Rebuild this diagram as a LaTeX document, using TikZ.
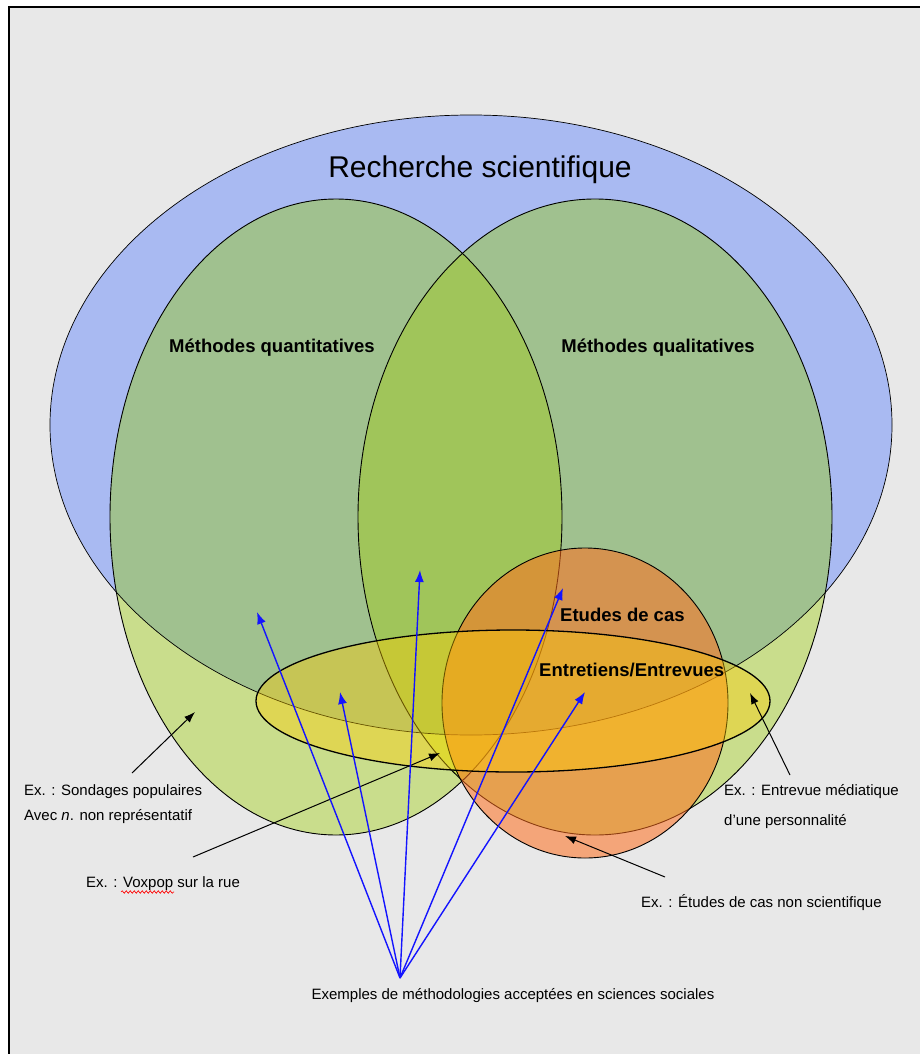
\documentclass[tikz,border=0pt]{standalone}
\usepackage{fontspec}
\setmainfont{Liberation Sans}
\usetikzlibrary{arrows.meta,decorations.pathmorphing}
\definecolor{pagebg}{HTML}{E8E8E8}
\definecolor{bluefill}{HTML}{A9BAF2}
\definecolor{gout}{HTML}{C9DD8C}
\definecolor{gin}{HTML}{A0C18F}
\definecolor{lensin}{HTML}{A0C55A}
\definecolor{lensout}{HTML}{C9E157}
\definecolor{orangefill}{RGB}{255,110,30}
\definecolor{yellowfill}{RGB}{255,205,0}
\definecolor{arrowblue}{RGB}{20,20,255}
\tikzset{
  outline/.style={draw=black,line width=0.9pt},
  small/.style={font=\fontsize{15}{18}\selectfont,inner sep=0pt},
  lbl/.style={font=\fontsize{18.5}{22}\selectfont\bfseries,inner sep=0pt},
  blkarrow/.style={draw=black,line width=1pt,-{Latex[length=11pt,width=8pt]}},
  bluearrow/.style={draw=arrowblue,line width=1.4pt,-{Latex[length=12pt,width=9pt]}},
}
\begin{document}
\begin{tikzpicture}[x=1pt,y=-1pt]
\useasboundingbox (0,0) rectangle (920,1054);
\fill[white] (0,0) rectangle (920,1054);
\fill[pagebg] (9,7) rectangle (920,1054);
\draw[black,line width=2pt] (9,1054) -- (9,7) -- (920,7);

% big blue ellipse
\fill[bluefill] (471,425) ellipse [x radius=421pt, y radius=310pt];
% green ellipses
\fill[gout] (336,517) ellipse [x radius=226pt, y radius=318pt];
\fill[gout] (595,517) ellipse [x radius=237pt, y radius=318pt];
\begin{scope}
  \clip (471,425) ellipse [x radius=421pt, y radius=310pt];
  \fill[gin] (336,517) ellipse [x radius=226pt, y radius=318pt];
  \fill[gin] (595,517) ellipse [x radius=237pt, y radius=318pt];
\end{scope}
\begin{scope}
  \clip (336,517) ellipse [x radius=226pt, y radius=318pt];
  \fill[lensout] (595,517) ellipse [x radius=237pt, y radius=318pt];
  \clip (471,425) ellipse [x radius=421pt, y radius=310pt];
  \fill[lensin] (595,517) ellipse [x radius=237pt, y radius=318pt];
\end{scope}
\draw[outline,line width=0.7pt] (471,425) ellipse [x radius=421pt, y radius=310pt];
\draw[outline] (336,517) ellipse [x radius=226pt, y radius=318pt];
\draw[outline] (595,517) ellipse [x radius=237pt, y radius=318pt];

% orange circle (case studies)
\fill[orangefill,fill opacity=0.55] (585,703) ellipse [x radius=143pt, y radius=155pt];
\draw[outline] (585,703) ellipse [x radius=143pt, y radius=155pt];
% yellow ellipse (interviews)
\fill[yellowfill,fill opacity=0.4] (513,701) ellipse [x radius=257pt, y radius=71pt];
\draw[outline,line width=1.3pt] (513,701) ellipse [x radius=257pt, y radius=71pt];

% labels
\node[font=\fontsize{30}{36}\selectfont,inner sep=0pt] (rs) at (480,170) {Recherche scientifique};
\node[lbl] (quant) at (272,348) {Méthodes quantitatives};
\node[lbl] (qual) at (658,348) {Méthodes qualitatives};
\node[lbl,anchor=west] (cas) at (560,615) {Etudes de cas};
\node[lbl,anchor=west] (entr) at (539,670) {Entretiens/Entrevues};

% annotations
\node[small,anchor=base west,align=left,font=\fontsize{15}{25}\selectfont] (sond) at (24,820)
  {Ex. : Sondages populaires\\Avec \textit{n}. non représentatif};
\node[small,anchor=base west] (vox) at (86,887) {Ex. : Voxpop sur la rue};
\node[small,anchor=base west,align=left,font=\fontsize{15}{30}\selectfont] (media) at (724,825)
  {Ex. : Entrevue médiatique\\d'une personnalité};
\node[small,anchor=base west] (nonsci) at (641,907) {Ex. : Études de cas non scientifique};
\node[small] (ex) at (513,996) {Exemples de méthodologies acceptées en sciences sociales};

% spell-check underline
\coordinate (voxA) at (121,892);
\coordinate (voxB) at (174,892);
\draw[red,line width=0.6pt,decorate,decoration={snake,segment length=4pt,amplitude=1.3pt}] (voxA) -- (voxB);

% black arrows
\coordinate (sondS) at (132,773);
\coordinate (sondT) at (195,712);
\coordinate (voxS) at (193,857);
\coordinate (voxT) at (440,753);
\coordinate (mediaS) at (790,775);
\coordinate (mediaT) at (750,693);
\coordinate (nonsciS) at (665,877);
\coordinate (nonsciT) at (565,836);
\draw[blkarrow] (sondS) -- (sondT);
\draw[blkarrow] (voxS) -- (voxT);
\draw[blkarrow] (mediaS) -- (mediaT);
\draw[blkarrow] (nonsciS) -- (nonsciT);

% blue arrows
\coordinate (root) at (400,978);
\coordinate (b1) at (257,612);
\coordinate (b2) at (340,692);
\coordinate (b3) at (420,570);
\coordinate (b4) at (563,588);
\coordinate (b5) at (585,692);
\foreach \t in {b1,b2,b3,b4,b5} \draw[bluearrow] (root) -- (\t);
\end{tikzpicture}
\end{document}
